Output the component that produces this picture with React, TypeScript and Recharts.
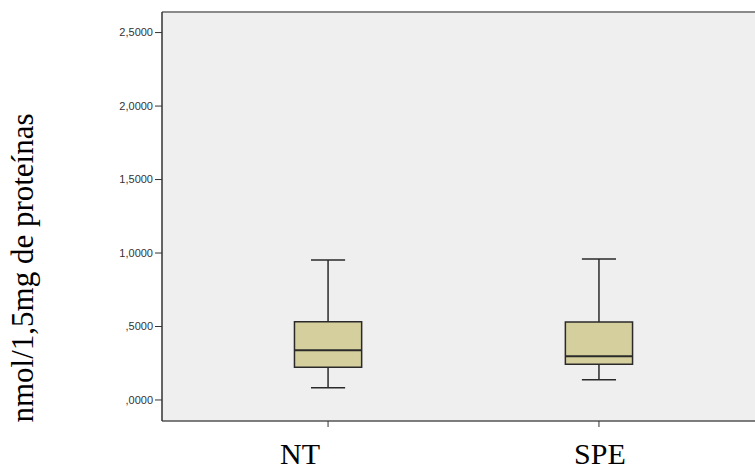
import React from 'react';
import {
  ComposedChart,
  XAxis,
  YAxis,
  CartesianGrid,
  ReferenceArea,
  ReferenceLine,
  Scatter,
  Label,
} from 'recharts';

// ---- data ----
const categories = ['NT', 'SPE'];
const positions = [1, 2];
const whiskerLow = [0.084, 0.138];
const q1 = [0.222, 0.243];
const median = [0.338, 0.297];
const q3 = [0.532, 0.531];
const whiskerHigh = [0.952, 0.959];
const yTicks = [0, 0.5, 1, 1.5, 2, 2.5];
const yLabel = 'nmol/1,5mg de proteínas';

// ---- style constants ----
const BOX_HALF = 0.124;
const CAP_HALF = 0.063;
const Y_DOMAIN: [number, number] = [-0.143, 2.64];
const X_DOMAIN: [number, number] = [0.387, 2.576];
const BOX_FILL = '#d4cf9c';
const LINE = '#2a2a2a';
const SERIF = '"Liberation Serif", "Times New Roman", serif';
const SANS = '"Liberation Sans", Arial, sans-serif';
const LABEL_SHIFT = [-28, 1];

const rows = positions.map((p, i) => ({
  x: p,
  name: categories[i],
  low: whiskerLow[i],
  q1: q1[i],
  median: median[i],
  q3: q3[i],
  high: whiskerHigh[i],
}));

const yFmt = (v: number) => {
  const s = v.toFixed(4).replace('.', ',');
  return s.startsWith('0,') ? s.slice(1) : s;
};

const XTick = (props: any) => {
  const { x, y, payload } = props;
  const i = positions.indexOf(payload.value);
  return (
    <text
      x={x + (LABEL_SHIFT[i] ?? 0)}
      y={y + 35}
      textAnchor="middle"
      fontFamily={SERIF}
      fontSize={30}
      fill="#000"
    >
      {categories[i] ?? ''}
    </text>
  );
};

const YLabelContent = () => (
  <text
    x={33}
    y={268}
    transform="rotate(-90, 33, 268)"
    textAnchor="middle"
    fontFamily={SERIF}
    fontSize={31}
    fill="#000"
  >
    {yLabel}
  </text>
);

export default function App() {
  return (
    <div style={{ position: 'fixed', left: 0, top: 0, background: '#fff' }}>
      <ComposedChart
        width={755}
        height={472}
        data={rows}
        margin={{ top: 12, right: 0, left: 0, bottom: 0 }}
      >
        <CartesianGrid horizontal={false} vertical={false} fill="#efefef" />
        <XAxis
          dataKey="x"
          type="number"
          domain={X_DOMAIN}
          ticks={positions}
          allowDataOverflow
          height={51}
          tickSize={6}
          axisLine={{ stroke: '#555', strokeWidth: 1.5 }}
          tickLine={{ stroke: '#333', strokeWidth: 1 }}
          tick={<XTick />}
          interval={0}
        />
        <YAxis
          type="number"
          domain={Y_DOMAIN}
          ticks={yTicks}
          allowDataOverflow
          width={162}
          tickSize={7}
          tickFormatter={yFmt}
          axisLine={{ stroke: '#333', strokeWidth: 1.5 }}
          tickLine={{ stroke: '#333', strokeWidth: 1 }}
          tick={{ fontFamily: SANS, fontSize: 11, fill: '#333' }}
          interval={0}
        >
          <Label content={<YLabelContent />} />
        </YAxis>
        <ReferenceLine
          y={Y_DOMAIN[1]}
          stroke="#8a8a8a"
          strokeWidth={2}
          ifOverflow="extendDomain"
        />
        {rows.map((r) => (
          <ReferenceLine
            key={`wu-${r.name}`}
            segment={[
              { x: r.x, y: r.q3 },
              { x: r.x, y: r.high },
            ]}
            stroke={LINE}
            strokeWidth={1.5}
          />
        ))}
        {rows.map((r) => (
          <ReferenceLine
            key={`wl-${r.name}`}
            segment={[
              { x: r.x, y: r.low },
              { x: r.x, y: r.q1 },
            ]}
            stroke={LINE}
            strokeWidth={1.5}
          />
        ))}
        {rows.map((r) => (
          <ReferenceLine
            key={`ch-${r.name}`}
            segment={[
              { x: r.x - CAP_HALF, y: r.high },
              { x: r.x + CAP_HALF, y: r.high },
            ]}
            stroke={LINE}
            strokeWidth={1.5}
          />
        ))}
        {rows.map((r) => (
          <ReferenceLine
            key={`cl-${r.name}`}
            segment={[
              { x: r.x - CAP_HALF, y: r.low },
              { x: r.x + CAP_HALF, y: r.low },
            ]}
            stroke={LINE}
            strokeWidth={1.5}
          />
        ))}
        {rows.map((r) => (
          <ReferenceArea
            key={`box-${r.name}`}
            x1={r.x - BOX_HALF}
            x2={r.x + BOX_HALF}
            y1={r.q1}
            y2={r.q3}
            fill={BOX_FILL}
            fillOpacity={1}
            stroke={LINE}
            strokeWidth={1.5}
          />
        ))}
        {rows.map((r) => (
          <ReferenceLine
            key={`md-${r.name}`}
            segment={[
              { x: r.x - BOX_HALF, y: r.median },
              { x: r.x + BOX_HALF, y: r.median },
            ]}
            stroke={LINE}
            strokeWidth={2}
          />
        ))}
        <Scatter
          dataKey="median"
          isAnimationActive={false}
          shape={() => null}
          legendType="none"
        />
      </ComposedChart>
    </div>
  );
}
